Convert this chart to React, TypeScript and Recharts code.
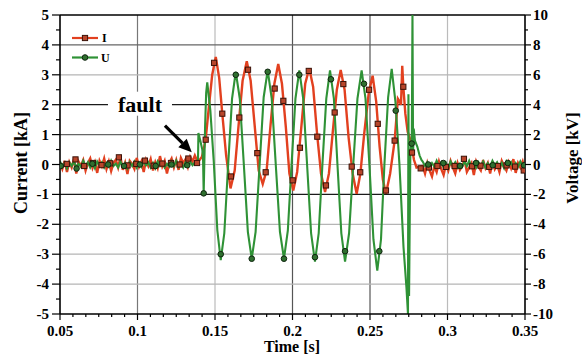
import {
  ComposedChart,
  Line,
  Scatter,
  XAxis,
  YAxis,
  ReferenceLine,
  ReferenceDot,
} from "recharts";

const FONT = "'Liberation Serif', 'Times New Roman', serif";
const RED = "#e2401f";
const GREEN = "#2f9236";

// axes
const xMajor = [0.05, 0.1, 0.15, 0.2, 0.25, 0.3, 0.35];
const iMajor = [-5, -4, -3, -2, -1, 0, 1, 2, 3, 4, 5];
const uMajor = [-10, -8, -6, -4, -2, 0, 2, 4, 6, 8, 10];

// sampled noise before / after the fault (1.5 ms step)
const noiseStep = 0.0015;
const preStart = 0.05;
const postStart = 0.284;

const iPreNoise = [
  0.05, -0.15, 0.12, -0.25, 0.08, -0.1, 0.18, -0.3, 0.1, -0.05,
  0.15, -0.2, 0.05, 0.2, -0.12, 0.08, -0.28, 0.12, -0.06, 0.2,
  -0.15, 0.1, -0.22, 0.05, 0.16, -0.1, 0.25, -0.18, 0.06, -0.32,
  0.12, 0.02, -0.15, 0.22, -0.08, 0.1, -0.25, 0.15, -0.05, 0.18,
  -0.2, 0.08, -0.12, 0.28, -0.06, 0.12, -0.3, 0.05, 0.2, -0.1,
  0.15, -0.18, 0.22, 0.05, 0.18, -0.08, 0.25, 0.1, 0.3, 0.12,
];
const uPreNoise = [
  0.2, -0.15, 0.1, -0.25, 0.15, -0.1, 0.2, -0.2, 0.05, -0.15,
  0.25, -0.1, 0.15, -0.2, 0.1, -0.25, 0.2, -0.05, 0.15, -0.2,
  0.1, -0.15, 0.25, -0.1, 0.05, -0.2, 0.2, -0.15, 0.1, -0.25,
  0.15, -0.1, 0.2, -0.2, 0.1, -0.15, 0.25, -0.05, 0.15, -0.2,
  0.1, -0.25, 0.2, -0.1, 0.15, -0.2, 0.05, -0.15, 0.2, -0.1,
  0.25, -0.15, 0.1, -0.2, 0.15, -0.1, 0.2, -0.05, 0.15, 0.1,
];
const iPostNoise = [
  -0.05, -0.3, 0.05, -0.2, -0.4, -0.05, -0.25, 0.1, -0.15, -0.35,
  0.0, -0.2, 0.12, -0.1, -0.3, 0.05, -0.18, -0.05, 0.15, -0.25,
  -0.1, 0.05, -0.35, 0.1, -0.08, -0.2, 0.15, -0.12, 0.05, -0.3,
  0.1, -0.15, 0.0, -0.25, 0.12, -0.05, -0.2, 0.08, -0.12, 0.18,
  -0.28, 0.05, -0.1, 0.1, -0.2,
];
const uPostNoise = [
  0.2, -0.1, 0.15, -0.2, 0.1, -0.15, 0.25, -0.1, 0.15, -0.2,
  0.1, -0.25, 0.2, -0.1, 0.15, -0.2, 0.05, -0.15, 0.2, -0.1,
  0.25, -0.15, 0.1, -0.2, 0.15, -0.1, 0.2, -0.2, 0.1, -0.15,
  0.25, -0.05, 0.15, -0.2, 0.1, -0.25, 0.2, -0.1, 0.15, -0.2,
  0.1, -0.15, 0.2, -0.1, 0.05,
];

// fault period: current I [kA]
const iFaultT = [
  0.14, 0.1415, 0.1425, 0.144, 0.146, 0.1482, 0.1505, 0.1527, 0.1547, 0.1572,
  0.16, 0.1627, 0.1652, 0.1678, 0.1705, 0.173, 0.1756, 0.1782, 0.1808, 0.1833,
  0.1858, 0.1883, 0.1908, 0.1932, 0.1957, 0.198, 0.2005, 0.203, 0.2056, 0.2082,
  0.2108, 0.2133, 0.2159, 0.2184, 0.221, 0.2235, 0.226, 0.2286, 0.2311, 0.2336,
  0.2362, 0.2388, 0.2414, 0.2438, 0.2462, 0.2492, 0.2517, 0.254, 0.2562, 0.2583,
  0.2603, 0.263, 0.2659, 0.268, 0.2692, 0.27, 0.2708, 0.2715, 0.2728, 0.2743,
  0.2762, 0.2784, 0.28,
];
const iFaultV = [
  0.15, 0.25, 0.45, 0.85, 1.9, 3.0, 3.6, 2.9, 1.7, 0.3,
  -0.8, -0.2, 1.3, 2.8, 3.45, 2.8, 1.3, -0.2, -0.65, -0.2,
  1.3, 2.7, 3.36, 2.7, 1.25, -0.3, -0.87, -0.25, 1.2, 2.7,
  3.22, 2.6, 1.0, -0.3, -0.92, -0.3, 1.1, 2.5, 3.16, 2.5,
  0.9, -0.3, -0.98, -0.3, 1.0, 2.4, 2.97, 2.1, 0.6, -0.5,
  -0.98, -0.3, 0.8, 2.2, 2.1, 2.0, 3.3, 2.6, 1.7, 1.1,
  0.8, 0.15, -0.1,
];

// fault period: voltage U [kV]
const uFaultT = [
  0.139, 0.1393, 0.1405, 0.1418, 0.1423, 0.1427, 0.1436, 0.1443, 0.145, 0.147,
  0.1492, 0.1515, 0.1537, 0.156, 0.1585, 0.161, 0.1634, 0.166, 0.1686, 0.1712,
  0.1737, 0.1762, 0.1788, 0.1814, 0.184, 0.1866, 0.1892, 0.1919, 0.1945, 0.197,
  0.1994, 0.2019, 0.2044, 0.2069, 0.2094, 0.212, 0.2145, 0.2169, 0.2193, 0.2218,
  0.2242, 0.2267, 0.229, 0.2315, 0.2339, 0.2365, 0.2392, 0.2419, 0.2446, 0.2471,
  0.2496, 0.2522, 0.2547, 0.2571, 0.2593, 0.2617, 0.264, 0.2664, 0.269, 0.2716,
  0.2735, 0.2745, 0.2748, 0.2752, 0.276, 0.277, 0.2774, 0.2778, 0.2782, 0.279,
  0.2805, 0.282, 0.2832,
];
const uFaultV = [
  0.1, 2.1, 1.6, 1.0, 0.3, -1.9, 2.5, 4.8, 5.5, 3.6,
  0.2, -4.4, -6.4, -4.6, 0.0, 4.4, 6.2, 4.4, 0.0, -4.5,
  -6.3, -4.5, 0.0, 4.5, 6.3, 4.4, 0.0, -4.5, -6.3, -4.4,
  0.0, 4.4, 6.3, 4.4, 0.0, -4.6, -6.5, -4.6, 0.0, 4.4,
  6.3, 4.4, 0.0, -4.6, -6.5, -4.6, 0.0, 4.4, 6.3, 4.4,
  0.0, -5.0, -7.1, -5.0, 0.0, 4.5, 6.4, 4.2, 0.0, -5.5,
  -8.2, -10.0, 4.7, -8.8, 0.5, 2.0, 10.0, 0.8, 2.4, 1.6,
  1.2, 0.6, 0.3,
];

// marker samples
const iMarkT = [
  0.0544, 0.06, 0.0656, 0.0712, 0.0768, 0.0824, 0.088, 0.0936, 0.0992, 0.1048,
  0.1104, 0.116, 0.1216, 0.1272, 0.1328, 0.1384, 0.144, 0.1494, 0.1547, 0.1603,
  0.1657, 0.1713, 0.1773, 0.1827, 0.1885, 0.1941, 0.2001, 0.2048, 0.2105, 0.216,
  0.2216, 0.2272, 0.2328, 0.2382, 0.2437, 0.2494, 0.255, 0.2603, 0.2659, 0.2715,
  0.2771, 0.2827, 0.288, 0.2935, 0.299, 0.3046, 0.3106, 0.3158, 0.3213, 0.3269,
  0.3325, 0.3381, 0.3436, 0.3492,
];
const iMarkV = [
  0.02, 0.17, -0.05, 0.05, -0.02, 0.04, 0.24, -0.03, 0.02, 0.13,
  -0.04, 0.03, 0.05, 0.0, 0.2, 0.05, 0.83, 3.4, 1.7, -0.4,
  1.57, 3.17, 0.38, -0.26, 2.54, 2.13, -0.53, 0.56, 3.13, 0.93,
  -0.7, 1.74, 2.69, -0.07, -0.26, 2.5, 1.36, -0.87, 0.8, 2.6,
  0.4, -0.13, -0.1, -0.05, -0.08, -0.05, 0.19, -0.06, -0.04, -0.08,
  -0.05, -0.03, -0.07, -0.2,
];
const uMarkT = [
  0.0505, 0.0607, 0.0709, 0.0811, 0.0913, 0.1015, 0.1117, 0.1219, 0.1321, 0.1427,
  0.1537, 0.1634, 0.1737, 0.184, 0.1945, 0.2044, 0.2145, 0.2248, 0.2339, 0.2461,
  0.256, 0.2666, 0.2769, 0.2876, 0.2973, 0.3081, 0.3184, 0.3292, 0.3389, 0.3494,
];
const uMarkV = [
  -0.1, -0.27, 0.05, 0.0, -0.1, 0.0, -0.1, 0.0, -0.05, -1.93,
  -6.0, 6.0, -6.3, 6.2, -6.3, 6.0, -6.2, 5.7, -5.8, 5.4,
  -5.8, 3.6, 1.4, 0.0, 0.1, -0.1, 0.1, -0.05, 0.1, -0.05,
];

const noiseRows = (start: number, vals: number[]) =>
  vals.map((v, k) => ({ t: start + k * noiseStep, v }));
const pairRows = (ts: number[], vs: number[]) =>
  ts.map((t, k) => ({ t, v: vs[k] }));

const iData = [
  ...noiseRows(preStart, iPreNoise),
  ...pairRows(iFaultT, iFaultV),
  ...noiseRows(postStart, iPostNoise),
];
const uData = [
  ...noiseRows(preStart, uPreNoise),
  ...pairRows(uFaultT, uFaultV),
  ...noiseRows(postStart, uPostNoise),
];
const iMarks = pairRows(iMarkT, iMarkV);
const uMarks = pairRows(uMarkT, uMarkV);

function withMinor(majors: number[], parts: number) {
  const out: number[] = [];
  majors.forEach((m, k) => {
    out.push(m);
    if (k < majors.length - 1) {
      const step = (majors[k + 1] - m) / parts;
      for (let j = 1; j < parts; j++) out.push(m + j * step);
    }
  });
  return out;
}
const near = (list: number[], v: number) =>
  list.some((m) => Math.abs(m - v) < 1e-6);

const xTicks = withMinor(xMajor, 6);
const iTicks = withMinor(iMajor, 2);
const uTicks = withMinor(uMajor, 2);

const labelStyle = {
  fontFamily: FONT,
  fontWeight: 700,
  fontSize: 15,
  fill: "#000",
};

const XTick = (p: any) => {
  const v = p.payload.value;
  const major = near(xMajor, v);
  return (
    <g>
      <line x1={p.x} x2={p.x} y1={p.y} y2={p.y + (major ? 6 : 3)} stroke="#000" strokeWidth={1.2} />
      {major && (
        <text x={p.x} y={p.y + 22} textAnchor="middle" style={labelStyle}>
          {String(v)}
        </text>
      )}
    </g>
  );
};

const LeftTick = (p: any) => {
  const v = p.payload.value;
  const major = near(iMajor, v);
  return (
    <g>
      <line x1={p.x} x2={p.x - (major ? 8 : 4)} y1={p.y} y2={p.y} stroke="#000" strokeWidth={1.2} />
      {major && (
        <text x={p.x - 11} y={p.y + 5} textAnchor="end" style={labelStyle}>
          {String(v)}
        </text>
      )}
    </g>
  );
};

const RightTick = (p: any) => {
  const v = p.payload.value;
  const major = near(uMajor, v);
  return (
    <g>
      <line x1={p.x} x2={p.x + (major ? 6 : 3)} y1={p.y} y2={p.y} stroke="#000" strokeWidth={1.2} />
      {major && (
        <text x={p.x + 8} y={p.y + 5} textAnchor="start" style={labelStyle}>
          {String(v)}
        </text>
      )}
    </g>
  );
};

const hGridColor = (v: number) =>
  v === 2 || v === -1 ? "#1a1a1a" : v === 1 || v === 4 ? "#666" : "#b5b5b5";
const vGridColor = (v: number) =>
  v === 0.2 || v === 0.25 ? "#555" : v === 0.1 ? "#777" : "#bbb";

const Square = (p: any) => (
  <rect x={p.cx - 2.6} y={p.cy - 2.6} width={5.2} height={5.2} fill="#b8452a" stroke="#3b1208" strokeWidth={1} />
);
const Circle = (p: any) => (
  <circle cx={p.cx} cy={p.cy} r={2.8} fill="#2f6f2f" stroke="#0f250f" strokeWidth={1} />
);

const Arrow = (p: any) => {
  const { x1, y1, x2, y2 } = p;
  const a = Math.atan2(y2 - y1, x2 - x1);
  const len = 13;
  const w = 6;
  const bx = x2 - len * Math.cos(a);
  const by = y2 - len * Math.sin(a);
  const pts = [
    [x2, y2],
    [bx + w * Math.sin(a), by - w * Math.cos(a)],
    [bx - w * Math.sin(a), by + w * Math.cos(a)],
  ]
    .map((q) => q.join(","))
    .join(" ");
  return (
    <g>
      <line x1={x1} y1={y1} x2={bx} y2={by} stroke="#000" strokeWidth={3.2} />
      <polygon points={pts} fill="#000" />
    </g>
  );
};

const FaultLabel = (p: any) => (
  <g>
    <rect x={p.cx - 32} y={p.cy - 13} width={64} height={24} fill="#fff" />
    <text x={p.cx} y={p.cy + 7} textAnchor="middle" style={{ fontFamily: FONT, fontWeight: 700, fontSize: 22, fill: "#000" }}>
      fault
    </text>
  </g>
);

const titleStyle = { fontFamily: FONT, fontWeight: 700, fontSize: 18, fill: "#000" };

export default function App() {
  return (
    <div style={{ position: "absolute", left: 0, top: 0, width: 582, height: 358, background: "#fff" }}>
      <ComposedChart width={582} height={358} margin={{ top: 15, right: 0, bottom: 0, left: 0 }}>
        <XAxis
          type="number"
          dataKey="t"
          domain={[0.05, 0.35]}
          allowDataOverflow
          ticks={xTicks}
          interval={0}
          tick={<XTick />}
          tickLine={false}
          tickSize={0}
          tickMargin={0}
          height={44}
          axisLine={{ stroke: "#000", strokeWidth: 1.6 }}
        />
        <YAxis
          yAxisId="left"
          dataKey="v"
          type="number"
          domain={[-5, 5]}
          allowDataOverflow
          ticks={iTicks}
          interval={0}
          tick={<LeftTick />}
          tickLine={false}
          tickSize={0}
          tickMargin={0}
          width={60}
          axisLine={{ stroke: "#000", strokeWidth: 1.6 }}
        />
        <YAxis
          yAxisId="right"
          orientation="right"
          dataKey="v"
          type="number"
          domain={[-10, 10]}
          allowDataOverflow
          ticks={uTicks}
          interval={0}
          tick={<RightTick />}
          tickLine={false}
          tickSize={0}
          tickMargin={0}
          width={57}
          axisLine={{ stroke: "#000", strokeWidth: 1.6 }}
        />
        {xMajor.slice(1, -1).map((v) => (
          <ReferenceLine key={"vx" + v} yAxisId="left" x={v} stroke={vGridColor(v)} strokeWidth={1.2} zIndex={-50} />
        ))}
        {iMajor.slice(1).map((v) => (
          <ReferenceLine
            key={"hy" + v}
            yAxisId="left"
            y={v}
            stroke={v === 5 ? "#000" : hGridColor(v)}
            strokeWidth={v === 5 ? 1.6 : 1.2}
            zIndex={-50}
          />
        ))}
        <Line
          yAxisId="left"
          data={iData}
          dataKey="v"
          type="linear"
          stroke={RED}
          strokeWidth={2.4}
          dot={false}
          activeDot={false}
          isAnimationActive={false}
        />
        <Line
          yAxisId="right"
          data={uData}
          dataKey="v"
          type="linear"
          stroke={GREEN}
          strokeWidth={2.1}
          dot={false}
          activeDot={false}
          isAnimationActive={false}
        />
        <Scatter yAxisId="left" data={iMarks} shape={Square} isAnimationActive={false} />
        <Scatter yAxisId="right" data={uMarks} shape={Circle} isAnimationActive={false} />
        <ReferenceDot yAxisId="left" x={0.1016} y={2} r={0} shape={FaultLabel} />
        <ReferenceLine
          yAxisId="left"
          segment={[
            { x: 0.1177, y: 1.3 },
            { x: 0.135, y: 0.41 },
          ]}
          shape={Arrow}
        />
      </ComposedChart>
      <svg width={582} height={358} style={{ position: "absolute", left: 0, top: 0, pointerEvents: "none" }}>
        <line x1={72} x2={98} y1={38} y2={38} stroke={RED} strokeWidth={2.2} />
        <rect x={82.4} y={35.4} width={5.2} height={5.2} fill="#b8452a" stroke="#3b1208" strokeWidth={1} />
        <text x={102} y={42} style={{ ...titleStyle, fontSize: 12 }}>I</text>
        <line x1={72} x2={98} y1={57.5} y2={57.5} stroke={GREEN} strokeWidth={2.2} />
        <circle cx={85} cy={57.5} r={2.8} fill="#2f6f2f" stroke="#0f250f" strokeWidth={1} />
        <text x={101} y={62} style={{ ...titleStyle, fontSize: 12 }}>U</text>
        <text transform="translate(27,163) rotate(-90)" textAnchor="middle" style={titleStyle}>
          Current [kA]
        </text>
        <text transform="translate(578,158) rotate(-90)" textAnchor="middle" style={{ ...titleStyle, fontSize: 17 }}>
          Voltage [kV]
        </text>
        <text x={292} y={352} textAnchor="middle" style={{ ...titleStyle, fontSize: 16 }}>
          Time [s]
        </text>
      </svg>
    </div>
  );
}
